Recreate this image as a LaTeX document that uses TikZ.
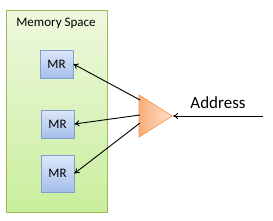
\documentclass[tikz,border=0pt]{standalone}
\usepackage{fontspec}
\setmainfont{Carlito}
\usetikzlibrary{shapes.geometric,arrows.meta,shadows,positioning,calc}

\definecolor{spaceline}{HTML}{9BBB59}
\definecolor{spacetop}{HTML}{EFF8DF}
\definecolor{spacebot}{HTML}{C9EE9C}
\definecolor{mrline}{HTML}{7F9FD0}
\definecolor{mrtop}{HTML}{DDE7F8}
\definecolor{mrbot}{HTML}{A5BFEA}
\definecolor{ampline}{HTML}{F79646}
\definecolor{ampdark}{HTML}{F9AE7C}
\definecolor{amplight}{HTML}{FDE3CE}

\begin{document}
\begin{tikzpicture}[x=1pt, y=-1pt,
    space/.style={rectangle, draw=spaceline, top color=spacetop, bottom color=spacebot, line width=0.8pt, inner sep=0pt,
      drop shadow={shadow xshift=1.2pt, shadow yshift=-1.2pt, fill=black!20}},
    mrbox/.style={rectangle, draw=mrline, top color=mrtop, bottom color=mrbot, line width=0.7pt, inner sep=0pt,
      minimum width=33pt, font=\fontsize{13}{15}\selectfont,
      drop shadow={shadow xshift=1pt, shadow yshift=-1pt, fill=black!20}},
    amp/.style={isosceles triangle, isosceles triangle stretches, shape border rotate=0, draw=ampline, line width=0.7pt,
      left color=ampdark, right color=amplight, inner sep=0pt, minimum width=42pt, minimum height=33pt},
    arrow/.style={-{To[length=5pt,width=6pt]}, line width=0.9pt}
]
\useasboundingbox (0,0) rectangle (273,220);

% memory block
\node[space, minimum width=101pt, minimum height=202pt] (memspace) at (56.5,111) {};
\node[font=\fontsize{13}{15}\selectfont] (memlabel) at (56,23) {Memory Space};

% memory regions
\node[mrbox, minimum height=28pt] (mr1) at (56.5,64) {MR};
\node[mrbox, minimum height=28pt] (mr2) at (57.5,124) {MR};
\node[mrbox, minimum height=37pt] (mr3) at (57.5,173.5) {MR};

% decoder
\node[amp, anchor=apex] (dec) at (173,116) {};
\coordinate (out1) at (140,100);
\coordinate (out2) at (140,115);
\coordinate (out3) at (140,123);
\coordinate (addr) at (263,116);

% arrows
\draw[arrow] (out1) -- (mr1.east);
\draw[arrow] (out2) -- (mr2.east);
\draw[arrow] (out3) -- (mr3.east);
\draw[arrow] (addr) -- (dec.apex)
  node[midway, above=4pt, font=\fontsize{17}{19}\selectfont] {Address};

\end{tikzpicture}
\end{document}
